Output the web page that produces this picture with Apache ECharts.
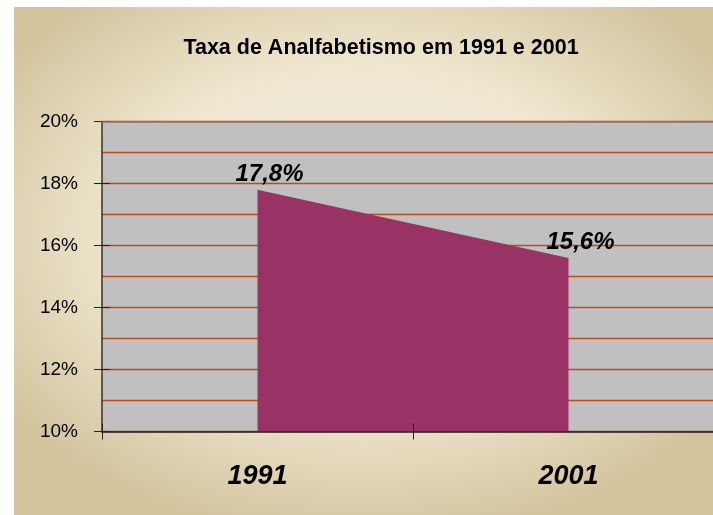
<!DOCTYPE html>
<html>
<head>
<meta charset="utf-8">
<script src="https://cdn.jsdelivr.net/npm/echarts@6/dist/echarts.min.js"></script>
<style>
  html, body { margin: 0; padding: 0; background: #fff; overflow: hidden; }
  #wrap { position: relative; width: 713px; height: 515px; overflow: hidden; }
  #bg {
    position: absolute; left: 14px; top: 7px; width: 699px; height: 508px;
    background: radial-gradient(ellipse 62% 60% at 50% 45%, #f3eddb 0%, #efe7d0 55%, #d3c49e 100%);
  }
  #chart { position: absolute; left: 0; top: 0; width: 740px; height: 515px; }
</style>
</head>
<body>
<div id="wrap">
  <div id="bg"></div>
  <div id="chart"></div>
</div>
<script>
var chartDom = document.getElementById('chart');
var myChart = echarts.init(chartDom);

const years = ['1991', '2001'];
const taxa = [17.8, 15.6];
const yMin = 10, yMax = 20, yStep = 2;

const gridLine = '#bd4a1a';

let option = {
    animation: false,
    backgroundColor: 'transparent',
    title: {
        text: 'Taxa de Analfabetismo em 1991 e 2001',
        left: 376,
        textAlign: 'center',
        top: 32,
        textStyle: {
            fontFamily: '"Liberation Sans Narrow", "Liberation Sans", Arial, sans-serif',
            fontWeight: 'bold',
            fontSize: 21.5,
            color: '#000'
        }
    },
    grid: {
        left: 102,
        top: 121.5,
        width: 622,
        height: 310,
        show: true,
        backgroundColor: '#c0c0c0',
        borderWidth: 0
    },
    xAxis: [{
        type: 'category',
        data: years,
        boundaryGap: true,
        z: 3,
        axisLine: { lineStyle: { color: '#222', width: 1.5 } },
        axisTick: { show: true, length: 8, lineStyle: { color: '#222' } },
        axisLabel: {
            margin: 32,
            fontFamily: '"Liberation Sans", Arial, sans-serif',
            fontWeight: 'bold',
            fontStyle: 'italic',
            fontSize: 27,
            color: '#000'
        },
        splitLine: { show: false }
    }, {
        type: 'category',
        data: years,
        position: 'bottom',
        boundaryGap: true,
        z: 3,
        axisLine: { show: false },
        axisTick: { show: true, inside: true, length: 8, lineStyle: { color: '#222' } },
        axisLabel: { show: false },
        splitLine: { show: false }
    }, {
        type: 'category',
        data: years,
        position: 'top',
        z: 3,
        axisLine: { show: true, lineStyle: { color: '#808080', width: 1.5 } },
        axisTick: { show: false },
        axisLabel: { show: false },
        splitLine: { show: false }
    }],
    yAxis: [{
        type: 'value',
        min: yMin,
        max: yMax,
        interval: yStep,
        axisLine: { show: true, lineStyle: { color: '#333', width: 1.5 } },
        axisTick: { show: true, length: 8, lineStyle: { color: '#222' } },
        axisLabel: {
            margin: 24,
            fontFamily: '"Liberation Sans", Arial, sans-serif',
            fontSize: 19,
            color: '#000',
            formatter: '{value}%'
        },
        splitLine: { show: true, lineStyle: { color: gridLine, width: 1.3 } },
        minorTick: { show: false, splitNumber: 2 },
        minorSplitLine: { show: true, lineStyle: { color: gridLine, width: 1.3 } }
    }, {
        type: 'value',
        min: yMin,
        max: yMax,
        interval: yStep,
        position: 'left',
        axisLine: { show: false },
        axisTick: { show: true, inside: true, length: 8, lineStyle: { color: '#222' } },
        axisLabel: { show: false },
        splitLine: { show: false },
        minorSplitLine: { show: false }
    }],
    series: [{
        type: 'line',
        data: taxa,
        showSymbol: true,
        symbol: 'circle',
        symbolSize: 0.5,
        lineStyle: { width: 0 },
        areaStyle: { color: '#993366', opacity: 1, origin: 'start' },
        itemStyle: { color: '#993366', borderWidth: 0 },
        label: {
            show: true,
            position: 'top',
            distance: 4,
            offset: [12, 1],
            fontFamily: '"Liberation Sans", Arial, sans-serif',
            fontWeight: 'bold',
            fontStyle: 'italic',
            fontSize: 24,
            color: '#000',
            formatter: function (p) {
                return String(p.value).replace('.', ',') + '%';
            }
        }
    }]
};

option && myChart.setOption(option);
</script>
</body>
</html>
